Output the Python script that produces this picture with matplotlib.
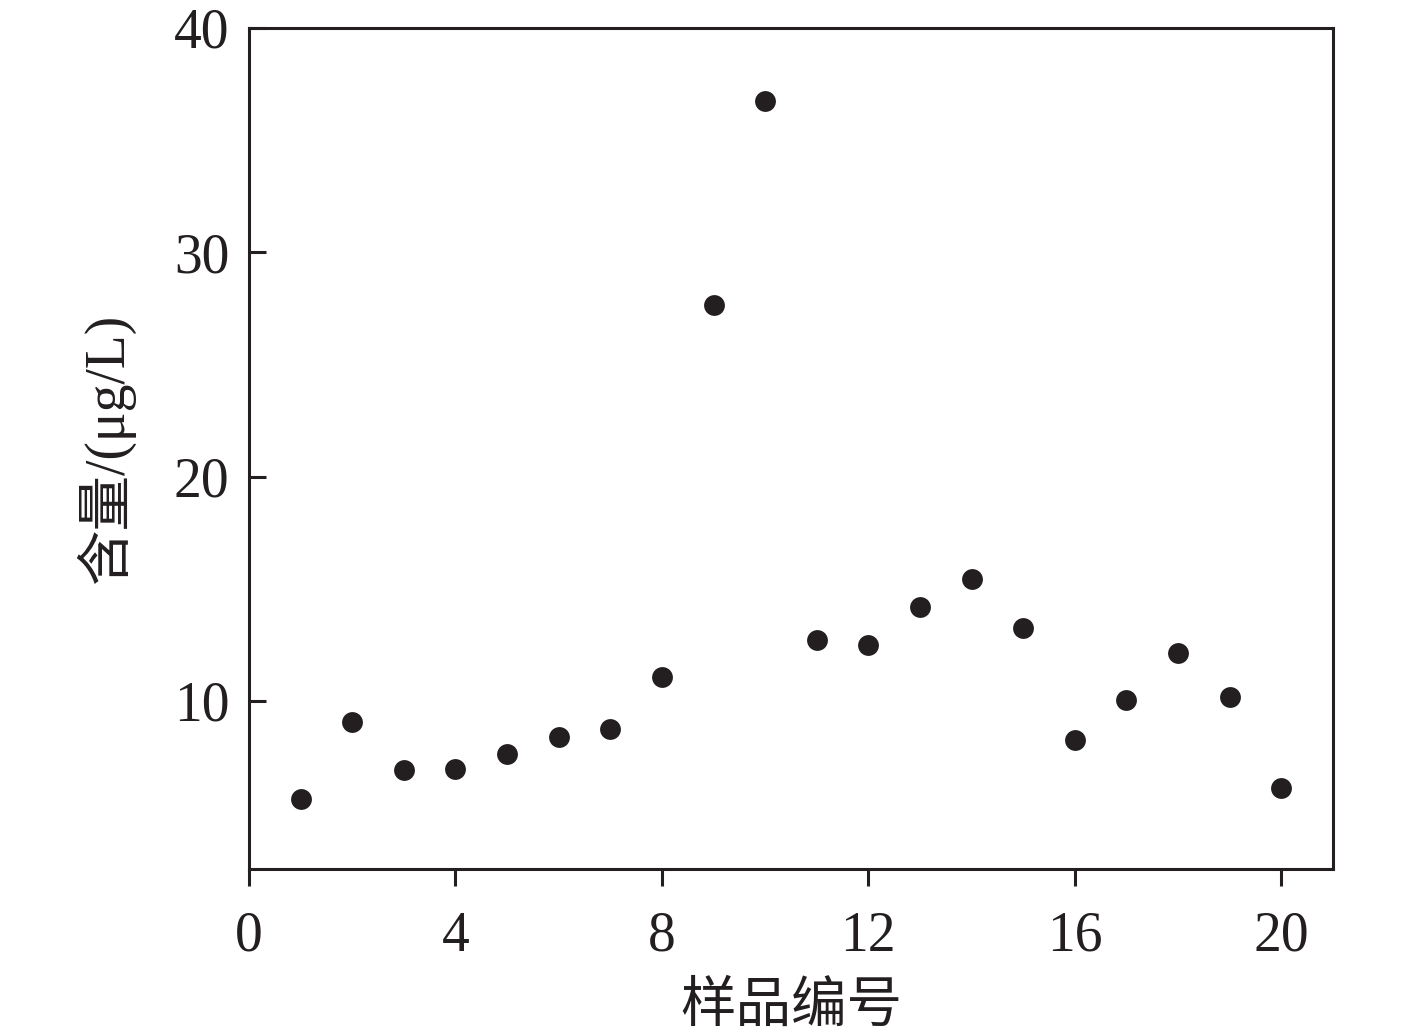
import matplotlib
matplotlib.use("Agg")
import matplotlib.pyplot as plt

# sample number vs content
sample_no = list(range(1, 21))
content = [5.63, 9.06, 6.92, 6.97, 7.64, 8.39, 8.75, 11.07, 27.66, 36.75,
           12.72, 12.50, 14.19, 15.44, 13.25, 8.26, 10.04, 12.14, 10.18, 6.12]

x_ticks = [0, 4, 8, 12, 16, 20]
y_ticks = [10, 20, 30, 40]

ink = "#231f20"
plt.rcParams['font.family'] = ['Liberation Serif', 'Noto Sans CJK SC']

fig = plt.figure(figsize=(14.17, 10.36), dpi=100)
ax = fig.add_axes([0.1757, 0.1612, 0.765, 0.8118])

ax.plot(sample_no, content, "o", color=ink, markersize=15, markeredgewidth=0)

ax.set_xlim(0, 21)
ax.set_ylim(2.5, 40)
ax.set_xticks(x_ticks)
ax.set_yticks(y_ticks)

for s in ax.spines.values():
    s.set_linewidth(2.2)
    s.set_color(ink)

ax.tick_params(axis="x", direction="out", length=12, width=2.2, pad=18,
               labelsize=40, colors=ink)
ax.tick_params(axis="y", direction="in", length=12, width=2.2, pad=14,
               labelsize=40, colors=ink)

ax.set_xlabel("样品编号", fontsize=40, color=ink, labelpad=14)
ax.set_ylabel("含量/(μg/L)", fontsize=40, color=ink, labelpad=28)

fig.savefig("out.png", dpi=100)
